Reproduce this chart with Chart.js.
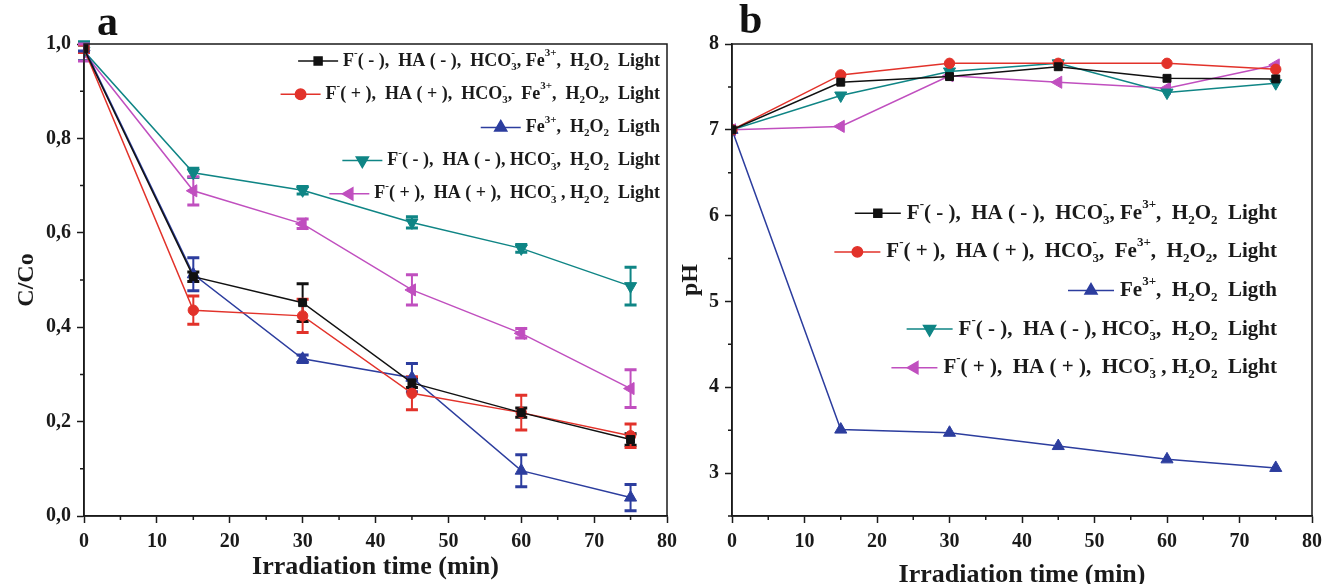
<!DOCTYPE html>
<html>
<head>
<meta charset="utf-8">
<title>C/Co and pH vs irradiation time</title>
<script src="https://cdn.jsdelivr.net/npm/chart.js@4.4.1/dist/chart.umd.min.js"></script>
<style>
  body { margin: 0; background: #fff; }
  #wrap { position: relative; width: 1327px; height: 584px; overflow: hidden; }
  .box { position: absolute; top: 0; height: 584px; }
  #boxA { left: 0; width: 680px; }
  #boxB { left: 680px; width: 647px; }
</style>
</head>
<body>
<div id="wrap">
  <div class="box" id="boxA"><canvas id="chartA"></canvas></div>
  <div class="box" id="boxB"><canvas id="chartB"></canvas></div>
</div>
<script>
// sampling times (min)
const times = [0, 15, 30, 45, 60, 75];
const xTicks = [0, 10, 20, 30, 40, 50, 60, 70, 80];
const yTicksA = [0, 0.2, 0.4, 0.6, 0.8, 1.0];
const yTicksB = [3, 4, 5, 6, 7, 8];

// legend text: _x = subscript, ^x / ^{..} = superscript
const seriesNames = [
  'F^-( - ),  HA ( - ),  HCO_3^-, Fe^{3+},  H_2O_2  Light',
  'F^-( + ),  HA ( + ),  HCO_3^-,  Fe^{3+},  H_2O_2,  Light',
  'Fe^{3+},  H_2O_2  Ligth',
  'F^-( - ),  HA ( - ), HCO_3^-,  H_2O_2  Light',
  'F^-( + ),  HA ( + ),  HCO_3^- , H_2O_2  Light'
];

// panel a : C/Co
const ccBlack   = [0.990, 0.507, 0.452, 0.282, 0.219, 0.162];
const ccRed     = [0.990, 0.436, 0.424, 0.260, 0.219, 0.170];
const ccBlue    = [0.993, 0.512, 0.333, 0.293, 0.096, 0.039];
const ccTeal    = [0.985, 0.727, 0.690, 0.622, 0.567, 0.487];
const ccMagenta = [0.982, 0.689, 0.619, 0.479, 0.387, 0.270];

const errBlack   = [0.008, 0.010, 0.040, 0.010, 0.010, 0.012];
const errRed     = [0.008, 0.030, 0.035, 0.035, 0.037, 0.025];
const errBlue    = [0.008, 0.035, 0.008, 0.030, 0.034, 0.028];
const errTeal    = [0.020, 0.010, 0.008, 0.012, 0.008, 0.040];
const errMagenta = [0.018, 0.030, 0.010, 0.032, 0.010, 0.040];

// panel b : pH
const phBlack   = [7.0, 7.555, 7.620, 7.735, 7.600, 7.593];
const phRed     = [7.0, 7.640, 7.775, 7.775, 7.775, 7.705];
const phBlue    = [7.0, 3.507, 3.470, 3.315, 3.160, 3.060];
const phTeal    = [7.0, 7.400, 7.680, 7.775, 7.434, 7.543];
const phMagenta = [7.0, 7.040, 7.630, 7.554, 7.484, 7.756];

const FONT = '"Liberation Serif", "DejaVu Serif", serif';
const AXIS = '#1a1a1a';

const styles = [
  { color: '#111111', pointStyle: 'rect',     rotation: 0,   radius: 5.6 },
  { color: '#e2322a', pointStyle: 'circle',   rotation: 0,   radius: 5.2 },
  { color: '#2c3d9e', pointStyle: 'triangle', rotation: 0,   radius: 7 },
  { color: '#0f8585', pointStyle: 'triangle', rotation: 180, radius: 7 },
  { color: '#c04fbf', pointStyle: 'triangle', rotation: -90, radius: 7 }
];

function makeSets(series) {
  return series.map((vals, i) => ({
    label: seriesNames[i],
    data: times.map((t, j) => ({ x: t, y: vals[j] })),
    borderColor: styles[i].color,
    backgroundColor: styles[i].color,
    borderWidth: 1.5,
    pointStyle: styles[i].pointStyle,
    pointRotation: styles[i].rotation,
    pointRadius: styles[i].radius,
    pointBorderWidth: 1,
    tension: 0
  }));
}

// ---- rich text with sub/superscripts ----
function parseRich(s) {
  const out = [];
  let i = 0;
  while (i < s.length) {
    const c = s[i];
    if (c === '_' || c === '^') {
      let t;
      if (s[i + 1] === '{') { const j = s.indexOf('}', i); t = s.slice(i + 2, j); i = j + 1; }
      else { t = s[i + 1]; i += 2; }
      out.push({ t, m: c === '_' ? 'sub' : 'sup' });
    } else {
      const last = out[out.length - 1];
      if (last && last.m === 'n') last.t += c; else out.push({ t: c, m: 'n' });
      i++;
    }
  }
  return out;
}

function layoutRich(ctx, parts, size) {
  const small = Math.round(size * 0.62);
  const pieces = [];
  let x = 0;
  for (let k = 0; k < parts.length; k++) {
    const p = parts[k];
    const f = p.m === 'n' ? size : small;
    ctx.font = `bold ${f}px ${FONT}`;
    const w = ctx.measureText(p.t).width;
    const dy = p.m === 'sub' ? size * 0.34 : p.m === 'sup' ? -size * 0.42 : 0;
    pieces.push({ t: p.t, f, x, dy });
    const nx = parts[k + 1];
    if (p.m === 'sub' && nx && nx.m === 'sup') {
      // stacked index, e.g. HCO3-
      ctx.font = `bold ${small}px ${FONT}`;
      const w2 = ctx.measureText(nx.t).width;
      pieces.push({ t: nx.t, f: small, x, dy: -size * 0.42 });
      x += Math.max(w, w2);
      k++;
    } else {
      x += w;
    }
  }
  return { pieces, width: x };
}

const richLegend = {
  id: 'richLegend',
  afterDraw(chart, args, o) {
    const ctx = chart.ctx;
    ctx.save();
    chart.data.datasets.forEach((ds, i) => {
      const y = o.top + i * o.gap;
      const lay = layoutRich(ctx, parseRich(ds.label), o.size);
      const tx = o.right - lay.width;
      const x1 = tx - o.textGap, x0 = x1 - o.lineLen;
      ctx.strokeStyle = ds.borderColor;
      ctx.fillStyle = ds.backgroundColor;
      ctx.lineWidth = 1.5;
      ctx.beginPath(); ctx.moveTo(x0, y); ctx.lineTo(x1, y); ctx.stroke();
      Chart.helpers.drawPoint(ctx, {
        pointStyle: ds.pointStyle, rotation: ds.pointRotation,
        radius: ds.pointRadius, borderWidth: 1
      }, (x0 + x1) / 2, y);
      ctx.fillStyle = '#1a1a1a';
      ctx.textBaseline = 'middle';
      ctx.textAlign = 'left';
      lay.pieces.forEach(p => {
        ctx.font = `bold ${p.f}px ${FONT}`;
        ctx.fillText(p.t, tx + p.x, y + p.dy);
      });
    });
    ctx.restore();
  }
};

const errorBars = {
  id: 'errorBars',
  beforeDatasetsDraw(chart, args, o) {
    if (!o.errors) return;
    const { ctx, scales: { x, y } } = chart;
    ctx.save();
    chart.data.datasets.forEach((ds, i) => {
      const err = o.errors[i];
      ctx.strokeStyle = ds.borderColor;
      ds.data.forEach((pt, j) => {
        const px = x.getPixelForValue(pt.x);
        const top = y.getPixelForValue(pt.y + err[j]);
        const bot = y.getPixelForValue(pt.y - err[j]);
        ctx.lineWidth = 2;
        ctx.beginPath(); ctx.moveTo(px, top); ctx.lineTo(px, bot); ctx.stroke();
        ctx.lineWidth = 3;
        ctx.beginPath();
        ctx.moveTo(px - 6, top); ctx.lineTo(px + 6, top);
        ctx.moveTo(px - 6, bot); ctx.lineTo(px + 6, bot);
        ctx.stroke();
      });
    });
    ctx.restore();
  }
};

// box around the plot, minor ticks and the panel letter
const frame = {
  id: 'frame',
  afterDraw(chart, args, o) {
    const { ctx, chartArea: a, scales: { x, y } } = chart;
    ctx.save();
    ctx.strokeStyle = AXIS;
    ctx.lineWidth = 1.5;
    ctx.strokeRect(a.left, a.top, a.right - a.left, a.bottom - a.top);
    ctx.beginPath();
    const minor = (sc, step, major, fn) => {
      const n = Math.round((sc.max - sc.min) / step);
      for (let k = 0; k <= n; k++) {
        const v = sc.min + k * step;
        const r = v / major;
        if (Math.abs(r - Math.round(r)) < 1e-6) continue;
        fn(sc.getPixelForValue(v));
      }
    };
    minor(x, o.xMinor, o.xMajor, px => { ctx.moveTo(px, a.bottom); ctx.lineTo(px, a.bottom + 4); });
    minor(y, o.yMinor, o.yMajor, py => { ctx.moveTo(a.left, py); ctx.lineTo(a.left - 4, py); });
    ctx.stroke();
    ctx.fillStyle = '#111';
    ctx.font = `bold 42px ${FONT}`;
    ctx.textAlign = 'left';
    ctx.textBaseline = 'alphabetic';
    ctx.fillText(o.letter, o.letterX, o.letterY);
    ctx.restore();
  }
};

const tickFont = { family: FONT, size: 20, weight: 'bold' };

function axisCommon(extra) {
  return Object.assign({
    type: 'linear',
    grid: { display: true, drawOnChartArea: false, drawTicks: true, tickLength: 7, tickColor: AXIS, tickWidth: 1.5 },
    border: { display: true, color: AXIS, width: 1.5 }
  }, extra);
}

function buildOptions(cfg) {
  return {
    responsive: true,
    maintainAspectRatio: false,
    animation: false,
    events: [],
    layout: { padding: { left: 0, right: cfg.padRight, top: 44, bottom: 0 } },
    scales: {
      x: axisCommon({
        min: 0, max: 80,
        afterBuildTicks: s => { s.ticks = xTicks.map(v => ({ value: v })); },
        // fixed axis band; let the end labels overhang the plot edges
        afterFit: s => { s.height = 68; s.paddingLeft = 0; s.paddingRight = 0; },
        ticks: { color: '#1a1a1a', font: tickFont, padding: 7, autoSkip: false, maxRotation: 0 },
        title: { display: true, text: 'Irradiation time (min)', color: '#1a1a1a',
                 font: { family: FONT, size: 26, weight: 'bold' }, padding: { top: 0, bottom: cfg.xTitlePad } }
      }),
      y: axisCommon({
        min: cfg.yMin, max: cfg.yMax,
        afterBuildTicks: s => { s.ticks = cfg.yTicks.map(v => ({ value: v })); },
        afterFit: s => { s.width = cfg.yWidth; s.paddingTop = 0; s.paddingBottom = 0; },
        ticks: { color: '#1a1a1a', font: tickFont, padding: 6, callback: cfg.yFormat },
        title: { display: true, text: cfg.yTitle, color: '#1a1a1a',
                 font: { family: FONT, size: 24, weight: 'bold' }, padding: { top: cfg.yTitlePad, bottom: 0 } }
      })
    },
    plugins: {
      legend: { display: false },
      tooltip: { enabled: false },
      errorBars: { errors: cfg.errors },
      richLegend: cfg.legend,
      frame: cfg.frame
    }
  };
}

new Chart(document.getElementById('chartA'), {
  type: 'line',
  data: { datasets: makeSets([ccBlack, ccRed, ccBlue, ccTeal, ccMagenta]) },
  options: buildOptions({
    padRight: 13, yWidth: 84, yMin: 0, yMax: 1, yTicks: yTicksA,
    yFormat: v => v.toFixed(1).replace('.', ','),
    yTitle: 'C/Co', yTitlePad: 12, xTitlePad: 1,
    errors: [errBlack, errRed, errBlue, errTeal, errMagenta],
    legend: { right: 660, top: 61, gap: 33.2, size: 18, lineLen: 40, textGap: 5 },
    frame: { xMinor: 5, xMajor: 10, yMinor: 0.1, yMajor: 0.2, letter: 'a', letterX: 97, letterY: 35 }
  }),
  plugins: [errorBars, richLegend, frame]
});

new Chart(document.getElementById('chartB'), {
  type: 'line',
  data: { datasets: makeSets([phBlack, phRed, phBlue, phTeal, phMagenta]) },
  options: buildOptions({
    padRight: 15, yWidth: 52, yMin: 2.5, yMax: 8, yTicks: yTicksB,
    yFormat: v => String(v),
    yTitle: 'pH', yTitlePad: -4, xTitlePad: -7,
    errors: null,
    legend: { right: 597, top: 213.3, gap: 38.6, size: 21, lineLen: 46, textGap: 6 },
    frame: { xMinor: 5, xMajor: 10, yMinor: 0.5, yMajor: 1, letter: 'b', letterX: 59, letterY: 33 }
  }),
  plugins: [errorBars, richLegend, frame]
});
</script>
</body>
</html>
